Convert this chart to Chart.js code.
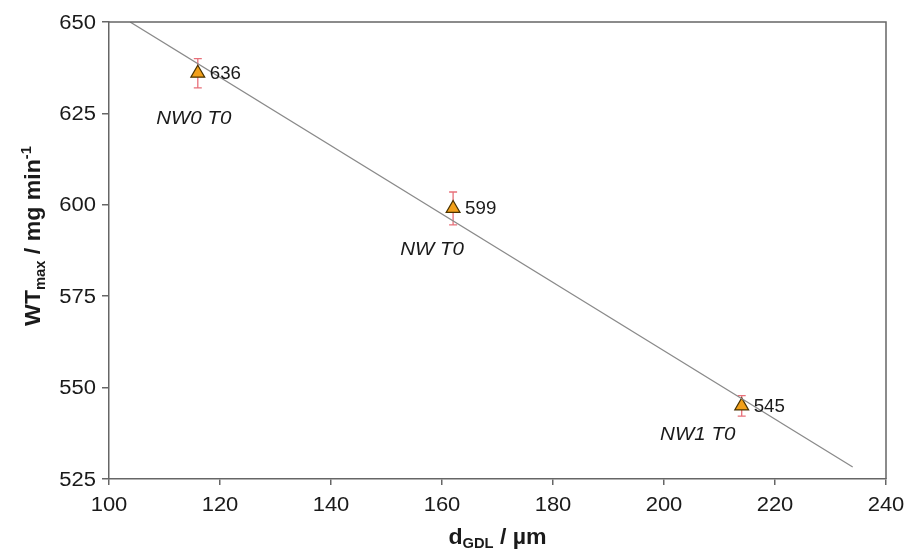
<!DOCTYPE html>
<html><head><meta charset="utf-8">
<script src="https://cdn.jsdelivr.net/npm/chart.js@4/dist/chart.umd.min.js"></script>
<style>html,body{margin:0;padding:0;background:#fff}#wrap{width:907px;height:549px}</style>
</head><body><div id="wrap"><canvas id="c" width="907" height="549"></canvas></div>
<script>
const thickness = [116, 162, 214];
const wtMax = [636, 599, 545];
const wtErr = [4, 4.5, 2.8];
const sampleNames = ['NW0 T0', 'NW T0', 'NW1 T0'];
const trendX = [103.8, 234];
const trendY = [650, 528.3];
const xTicks = [100, 120, 140, 160, 180, 200, 220, 240];
const yTicks = [525, 550, 575, 600, 625, 650];

const FONT = '"Liberation Sans", Arial, sans-serif';
const INK = '#1a1a1a';
// label placement offsets in px (dx, dy from marker centre)
const nameOffsets = [[-4, 46], [-21, 41], [-44, 29]];

function stretchText(ctx, txt, x, y, font, align, sx) {
  ctx.save();
  ctx.font = font;
  ctx.fillStyle = INK;
  ctx.textBaseline = 'middle';
  const w = ctx.measureText(txt).width * sx;
  let left = align === 'center' ? x - w / 2 : align === 'right' ? x - w : x;
  ctx.translate(left, y);
  ctx.scale(sx, 1);
  ctx.textAlign = 'left';
  ctx.fillText(txt, 0, 0);
  ctx.restore();
}

function richText(ctx, parts, cx, cy, rot, sx) {
  ctx.save();
  ctx.translate(cx, cy);
  if (rot) ctx.rotate(rot);
  ctx.scale(sx, 1);
  let total = 0;
  parts.forEach(p => { ctx.font = p.font; p.w = ctx.measureText(p.t).width; total += p.w; });
  let x = -total / 2;
  ctx.textBaseline = 'alphabetic';
  ctx.textAlign = 'left';
  ctx.fillStyle = INK;
  parts.forEach(p => { ctx.font = p.font; ctx.fillText(p.t, x, p.dy); x += p.w; });
  ctx.restore();
}

const deco = {
  id: 'deco',
  beforeDatasetDraw(chart, args) {
    if (args.index !== 1) return;
    const ctx = chart.ctx, xs = chart.scales.x, ys = chart.scales.y;
    ctx.save();
    ctx.strokeStyle = '#e8707a';
    ctx.lineWidth = 1.3;
    thickness.forEach((t, i) => {
      const px = xs.getPixelForValue(t);
      const y1 = ys.getPixelForValue(wtMax[i] + wtErr[i]);
      const y2 = ys.getPixelForValue(wtMax[i] - wtErr[i]);
      ctx.beginPath();
      ctx.moveTo(px, y1); ctx.lineTo(px, y2);
      ctx.moveTo(px - 4, y1); ctx.lineTo(px + 4, y1);
      ctx.moveTo(px - 4, y2); ctx.lineTo(px + 4, y2);
      ctx.stroke();
    });
    ctx.restore();
  },
  afterDraw(chart) {
    const ctx = chart.ctx, xs = chart.scales.x, ys = chart.scales.y, a = chart.chartArea;
    ctx.save();
    ctx.strokeStyle = '#666';
    ctx.lineWidth = 1.5;
    ctx.beginPath();
    ctx.moveTo(a.left, a.top); ctx.lineTo(a.right, a.top); ctx.lineTo(a.right, a.bottom);
    ctx.stroke();
    ctx.restore();
    // tick labels
    const TF = '20px ' + FONT;
    xs.ticks.forEach(t => stretchText(ctx, String(t.value), xs.getPixelForValue(t.value), 505, TF, 'center', 1.1));
    ys.ticks.forEach(t => stretchText(ctx, String(t.value), 96, ys.getPixelForValue(t.value) + 1, TF, 'right', 1.1));
    // point labels
    thickness.forEach((t, i) => {
      const px = xs.getPixelForValue(t), py = ys.getPixelForValue(wtMax[i]);
      stretchText(ctx, String(wtMax[i]), px + 12, py + 1, '18px ' + FONT, 'left', 1.04);
      stretchText(ctx, sampleNames[i], px + nameOffsets[i][0], py + nameOffsets[i][1], 'italic 19px ' + FONT, 'center', 1.08);
    });
    const B = 'bold 22px ' + FONT, S = 'bold 14px ' + FONT;
    richText(ctx, [
      {t: 'd', font: B, dy: 0}, {t: 'GDL', font: S, dy: 4}, {t: ' / µm', font: B, dy: 0}
    ], (a.left + a.right) / 2, 544, 0, 1.05);
    richText(ctx, [
      {t: 'WT', font: B, dy: 0}, {t: 'max', font: S, dy: 5}, {t: ' / mg min', font: B, dy: 0}, {t: '-1', font: S, dy: -9}
    ], 40, 236, -Math.PI / 2, 1.05);
  }
};

new Chart(document.getElementById('c'), {
  type: 'scatter',
  data: {
    datasets: [
      {
        data: trendX.map((x, i) => ({x, y: trendY[i]})),
        showLine: true, borderColor: '#8a8a8a', borderWidth: 1.3,
        pointRadius: 0, fill: false
      },
      {
        data: thickness.map((x, i) => ({x, y: wtMax[i]})),
        pointStyle: 'triangle', pointRadius: 8,
        backgroundColor: '#f2a01a', borderColor: '#4a3300', borderWidth: 1.2
      }
    ]
  },
  options: {
    responsive: false, animation: false,
    layout: {padding: {left: 0, right: 21, top: 22, bottom: 0}},
    plugins: {legend: {display: false}, tooltip: {enabled: false}},
    scales: {
      x: {
        type: 'linear', min: 100, max: 240,
        afterBuildTicks: s => { s.ticks = xTicks.map(v => ({value: v})); },
        afterFit: s => { s.height = 70; },
        grid: {drawOnChartArea: false, drawTicks: true, tickLength: 6, color: '#666', lineWidth: 1.5},
        border: {color: '#666', width: 1.5},
        ticks: {display: false}
      },
      y: {
        type: 'linear', min: 525, max: 650,
        afterBuildTicks: s => { s.ticks = yTicks.map(v => ({value: v})); },
        afterFit: s => { s.width = 109; },
        grid: {drawOnChartArea: false, drawTicks: true, tickLength: 7, color: '#666', lineWidth: 1.5},
        border: {color: '#666', width: 1.5},
        ticks: {display: false}
      }
    }
  },
  plugins: [deco]
});
</script></body></html>
